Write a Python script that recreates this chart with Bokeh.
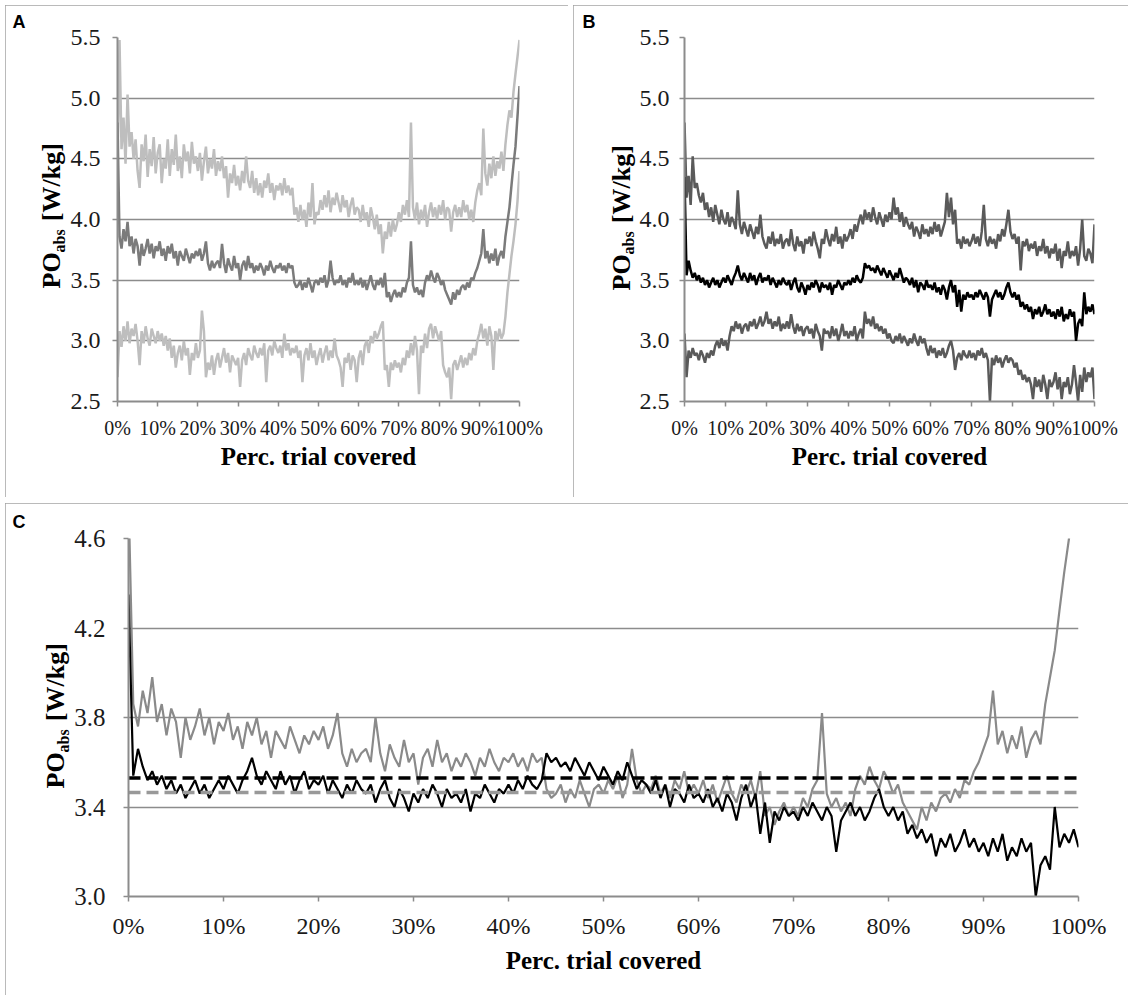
from bokeh.plotting import figure
from bokeh.layouts import column, row
from bokeh.models import FixedTicker, NumeralTickFormatter, Range1d, Title
from bokeh.embed import file_html
from bokeh.resources import INLINE

# ---------------- data (step 0.5 %) ----------------
PCT = [i * 0.5 for i in range(201)]
X_TICKS = [0, 10, 20, 30, 40, 50, 60, 70, 80, 90, 100]
AB_Y_TICKS = [2.5, 3.0, 3.5, 4.0, 4.5, 5.0, 5.5]
C_Y_TICKS = [3.0, 3.4, 3.8, 4.2, 4.6]

# Panel A, upper light-grey curve
A_UPPER = [4.42, 5.48, 4.58, 4.84, 4.46, 5.03, 4.60, 4.72, 4.50, 4.66,
           4.40, 4.26, 4.62, 4.48, 4.70, 4.35, 4.58, 4.44, 4.68, 4.38,
           4.55, 4.62, 4.30, 4.50, 4.42, 4.66, 4.36, 4.58, 4.45, 4.70,
           4.40, 4.52, 4.34, 4.62, 4.48, 4.56, 4.38, 4.64, 4.46, 4.52,
           4.40, 4.55, 4.32, 4.48, 4.60, 4.38, 4.50, 4.42, 4.58, 4.36,
           4.48, 4.40, 4.52, 4.34, 4.44, 4.18, 4.38, 4.30, 4.45, 4.28,
           4.36, 4.24, 4.40, 4.30, 4.52, 4.32, 4.26, 4.40, 4.22, 4.34,
           4.20, 4.30, 4.18, 4.32, 4.26, 4.38, 4.22, 4.30, 4.16, 4.28,
           4.24, 4.30, 4.20, 4.34, 4.22, 4.28, 4.20, 4.26, 4.04, 4.10,
           3.98, 4.12, 4.00, 4.08, 3.94, 4.14, 4.02, 4.30, 3.96, 4.06,
           4.04, 4.16, 4.08, 4.20, 4.10, 4.24, 4.06, 4.18, 4.12, 4.22,
           4.14, 4.06, 4.20, 4.10, 4.16, 4.02, 4.12, 4.18, 4.04, 4.10,
           4.08, 3.98, 4.12, 4.00, 4.06, 3.94, 4.10, 4.02, 3.92, 4.04,
           3.88, 3.96, 3.72, 3.90, 3.84, 3.98, 3.86, 4.00, 3.90, 3.96,
           4.06, 3.98, 4.12, 4.04, 4.16, 4.02, 4.80, 4.10, 4.00, 4.14,
           3.96, 4.08, 4.00, 4.12, 3.94, 4.06, 4.14, 4.02, 4.10, 4.00,
           4.12, 4.04, 4.16, 4.00, 4.10, 4.08, 3.90, 4.06, 4.12, 4.02,
           4.10, 4.02, 4.16, 4.06, 4.12, 4.00, 4.08, 3.98, 4.14, 4.24,
           4.30, 4.20, 4.75, 4.38, 4.28, 4.46, 4.34, 4.52, 4.36, 4.48,
           4.42, 4.56, 4.40, 4.62, 4.78, 4.90, 4.84, 5.05, 5.20, 5.34,
           5.48]

# Panel A, middle dark-grey curve (also the grey curve of panel C)
A_MIDDLE = [4.80, 3.86, 3.76, 3.92, 3.82, 3.98, 3.78, 3.86, 3.72, 3.84,
            3.78, 3.62, 3.80, 3.70, 3.76, 3.84, 3.72, 3.80, 3.68, 3.78,
            3.74, 3.82, 3.70, 3.76, 3.66, 3.78, 3.72, 3.80, 3.68, 3.74,
            3.62, 3.74, 3.70, 3.66, 3.76, 3.70, 3.64, 3.72, 3.68, 3.74,
            3.70, 3.76, 3.66, 3.72, 3.82, 3.64, 3.58, 3.66, 3.60, 3.64,
            3.66, 3.60, 3.80, 3.64, 3.56, 3.68, 3.62, 3.58, 3.70, 3.60,
            3.64, 3.50, 3.62, 3.66, 3.58, 3.70, 3.60, 3.64, 3.56, 3.62,
            3.58, 3.64, 3.60, 3.54, 3.62, 3.58, 3.66, 3.60, 3.56, 3.62,
            3.60, 3.64, 3.58, 3.62, 3.56, 3.64, 3.60, 3.62, 3.48, 3.44,
            3.46, 3.50, 3.42, 3.48, 3.44, 3.52, 3.46, 3.40, 3.48, 3.50,
            3.46, 3.52, 3.48, 3.54, 3.44, 3.50, 3.66, 3.52, 3.46, 3.50,
            3.48, 3.54, 3.46, 3.50, 3.44, 3.52, 3.48, 3.56, 3.46, 3.50,
            3.46, 3.52, 3.44, 3.50, 3.42, 3.48, 3.54, 3.46, 3.42, 3.50,
            3.46, 3.52, 3.44, 3.56, 3.36, 3.40, 3.32, 3.38, 3.42, 3.36,
            3.40, 3.36, 3.44, 3.40, 3.48, 3.52, 3.82, 3.46, 3.40, 3.44,
            3.38, 3.42, 3.36, 3.48, 3.54, 3.50, 3.58, 3.52, 3.48, 3.56,
            3.52, 3.46, 3.50, 3.42, 3.38, 3.34, 3.30, 3.40, 3.34, 3.42,
            3.38, 3.44, 3.46, 3.42, 3.48, 3.44, 3.52, 3.50, 3.56, 3.60,
            3.66, 3.72, 3.92, 3.68, 3.74, 3.64, 3.72, 3.66, 3.76, 3.62,
            3.70, 3.74, 3.68, 3.86, 3.98, 4.10, 4.28, 4.45, 4.60, 4.85,
            5.10]

# Panel A, lower light-grey curve
A_LOWER = [2.70, 3.08, 2.95, 3.12, 3.00, 3.16, 2.98, 3.10, 3.04, 3.14,
           3.00, 2.80, 3.08, 2.98, 3.12, 3.02, 2.96, 3.10, 3.04, 2.98,
           3.08, 3.00, 3.06, 2.96, 3.04, 2.92, 3.02, 2.86, 2.96, 2.78,
           2.90, 2.96, 2.84, 3.00, 2.88, 2.94, 2.72, 2.90, 2.84, 2.98,
           2.86, 2.92, 3.25, 3.08, 2.70, 2.82, 2.76, 2.88, 2.72, 2.84,
           2.90, 2.78, 2.86, 2.94, 2.82, 2.90, 2.74, 2.88, 2.84, 2.80,
           2.86, 2.62, 2.84, 2.90, 2.80, 2.94, 2.88, 2.84, 2.96, 2.90,
           2.86, 2.94, 2.88, 2.98, 2.66, 2.92, 2.96, 2.88, 3.00, 2.94,
           2.90, 2.96, 2.86, 3.06, 2.92, 2.98, 2.88, 2.94, 2.90, 2.96,
           2.86, 2.92, 2.66, 2.88, 2.94, 2.84, 2.98, 2.86, 2.92, 2.80,
           2.88, 2.94, 2.82, 2.90, 2.96, 2.84, 2.92, 2.86, 3.02, 2.88,
           2.84, 2.78, 2.62, 2.86, 2.82, 2.90, 2.76, 2.88, 2.84, 2.66,
           2.86, 2.92, 2.80, 2.96, 3.00, 2.90, 3.04, 2.98, 3.08, 3.02,
           3.06, 3.12, 3.16, 2.76, 2.80, 2.62, 2.82, 2.76, 2.84, 2.78,
           2.82, 2.74, 2.86, 2.80, 2.92, 2.86, 2.98, 2.88, 3.04, 2.92,
           2.56, 2.96, 2.90, 3.06, 2.94, 3.10, 3.14, 3.02, 3.12, 3.06,
           3.00, 3.08, 2.80, 2.74, 2.70, 2.78, 2.52, 2.80, 2.84, 2.76,
           2.82, 2.88, 2.78, 2.86, 2.80, 2.90, 2.84, 2.94, 2.88, 3.00,
           3.06, 3.14, 3.02, 3.10, 2.96, 3.12, 3.04, 2.76, 3.08, 3.00,
           3.10, 3.02, 3.06, 3.20, 3.40, 3.55, 3.70, 3.82, 3.96, 4.15,
           4.40]

# Panel B, upper dark-grey curve
B_UPPER = [4.80, 4.18, 4.36, 4.12, 4.52, 4.26, 4.30, 4.20, 4.14, 4.22,
           4.08, 4.14, 4.02, 4.10, 3.98, 4.12, 4.04, 3.96, 4.08, 4.00,
           3.96, 4.06, 3.94, 4.02, 3.98, 3.92, 4.24, 3.96, 3.88, 3.98,
           3.92, 3.86, 3.96, 3.90, 3.84, 3.94, 3.88, 4.04, 3.86, 3.80,
           3.76, 3.86, 3.80, 3.90, 3.78, 3.84, 3.80, 3.88, 3.76, 3.82,
           3.84, 3.78, 3.92, 3.80, 3.74, 3.86, 3.78, 3.82, 3.72, 3.84,
           3.80, 3.86, 3.78, 3.90, 3.82, 3.76, 3.68, 3.84, 3.80, 3.92,
           3.84, 3.78, 3.88, 3.82, 3.94, 3.80, 3.86, 3.76, 3.88, 3.82,
           3.86, 3.92, 3.84, 3.96, 3.90, 3.98, 4.04, 3.96, 4.08, 4.00,
           4.06, 3.98, 4.10, 4.02, 3.96, 4.06, 4.00, 3.94, 4.04, 3.98,
           4.06, 4.00, 4.18, 4.04, 4.10, 3.98, 4.06, 3.94, 4.02, 3.96,
           3.92, 3.98, 3.86, 3.94, 3.90, 3.84, 3.96, 3.88, 3.92, 3.86,
           3.94, 3.88, 3.98, 3.90, 3.96, 3.86, 3.92, 3.98, 4.22, 4.02,
           4.18, 3.96, 4.08, 3.80, 3.84, 3.76, 3.86, 3.80, 3.84, 3.78,
           3.82, 3.88, 3.80, 3.86, 3.78, 3.90, 4.12, 3.84, 3.78, 3.86,
           3.80, 3.84, 3.76, 3.88, 3.82, 3.92, 3.86, 3.96, 4.08, 3.90,
           3.84, 3.88, 3.80, 3.86, 3.58, 3.82, 3.78, 3.84, 3.74, 3.80,
           3.76, 3.82, 3.70, 3.78, 3.74, 3.84, 3.72, 3.78, 3.68, 3.76,
           3.72, 3.80, 3.66, 3.76, 3.60, 3.74, 3.70, 3.82, 3.68, 3.74,
           3.70, 3.78, 3.62, 3.76, 4.00, 3.70, 3.66, 3.76, 3.72, 3.64,
           3.96]

# Panel B, middle black curve (also the black curve of panel C)
B_MIDDLE = [4.35, 3.54, 3.66, 3.58, 3.52, 3.56, 3.50, 3.54, 3.48, 3.52,
            3.46, 3.50, 3.44, 3.48, 3.52, 3.46, 3.50, 3.44, 3.48, 3.52,
            3.48, 3.54, 3.50, 3.46, 3.52, 3.56, 3.62, 3.54, 3.50, 3.56,
            3.52, 3.48, 3.56, 3.50, 3.54, 3.46, 3.52, 3.56, 3.48, 3.52,
            3.50, 3.54, 3.46, 3.52, 3.48, 3.44, 3.50, 3.46, 3.52, 3.48,
            3.46, 3.50, 3.42, 3.48, 3.52, 3.44, 3.40, 3.48, 3.44, 3.38,
            3.46, 3.42, 3.48, 3.44, 3.50, 3.46, 3.40, 3.48, 3.44, 3.46,
            3.42, 3.48, 3.38, 3.46, 3.44, 3.50, 3.46, 3.42, 3.48, 3.46,
            3.50, 3.46, 3.52, 3.48, 3.54, 3.50, 3.48, 3.52, 3.64, 3.60,
            3.62, 3.58, 3.60, 3.56, 3.62, 3.58, 3.54, 3.60, 3.56, 3.52,
            3.58, 3.54, 3.50, 3.56, 3.52, 3.60, 3.54, 3.48, 3.52, 3.50,
            3.46, 3.52, 3.44, 3.50, 3.40, 3.48, 3.46, 3.42, 3.50, 3.44,
            3.46, 3.42, 3.48, 3.40, 3.44, 3.38, 3.46, 3.42, 3.34, 3.44,
            3.50, 3.40, 3.46, 3.28, 3.42, 3.24, 3.38, 3.34, 3.40, 3.36,
            3.38, 3.34, 3.40, 3.36, 3.42, 3.38, 3.34, 3.40, 3.36, 3.20,
            3.34, 3.38, 3.42, 3.36, 3.40, 3.34, 3.38, 3.44, 3.48, 3.40,
            3.36, 3.40, 3.34, 3.38, 3.28, 3.32, 3.26, 3.30, 3.24, 3.28,
            3.18, 3.26, 3.22, 3.28, 3.20, 3.24, 3.30, 3.22, 3.26, 3.20,
            3.24, 3.18, 3.26, 3.20, 3.28, 3.16, 3.22, 3.18, 3.26, 3.20,
            3.24, 3.00, 3.14, 3.18, 3.12, 3.40, 3.22, 3.28, 3.24, 3.30,
            3.22]

# Panel B, lower dark-grey curve
B_LOWER = [3.06, 2.70, 2.92, 2.86, 2.94, 2.88, 2.90, 2.84, 2.92, 2.88,
           2.82, 2.90, 2.86, 2.92, 2.88, 2.96, 3.00, 2.94, 3.02, 2.96,
           3.00, 2.92, 3.04, 3.12, 3.08, 3.16, 3.10, 3.14, 3.06, 3.12,
           3.14, 3.08, 3.16, 3.12, 3.18, 3.10, 3.14, 3.20, 3.12, 3.16,
           3.24, 3.14, 3.18, 3.10, 3.16, 3.12, 3.20, 3.08, 3.14, 3.10,
           3.16, 3.10, 3.22, 3.12, 3.06, 3.14, 3.08, 3.12, 3.04, 3.10,
           3.12, 3.06, 3.10, 3.02, 3.14, 3.08, 3.04, 2.92, 3.10, 3.06,
           3.08, 3.02, 3.12, 3.04, 3.10, 3.00, 3.06, 3.14, 3.04, 3.08,
           3.02, 3.08, 3.04, 3.12, 3.00, 3.06, 3.10, 3.02, 3.24, 3.14,
           3.18, 3.12, 3.20, 3.10, 3.14, 3.08, 3.12, 3.06, 3.10, 3.02,
           3.06, 3.00, 2.98, 3.04, 3.00, 3.06, 2.98, 3.04, 3.00, 2.96,
           3.02, 2.98, 3.06, 3.00, 2.96, 3.04, 2.98, 3.02, 2.94, 2.88,
           2.96, 2.90, 2.94, 2.86, 2.92, 2.88, 2.94, 2.86, 2.90, 2.96,
           3.00, 2.92, 2.76, 2.86, 2.90, 2.84, 2.92, 2.88, 2.86, 2.92,
           2.86, 2.90, 2.84, 2.92, 2.88, 2.94, 2.86, 2.90, 2.84, 2.50,
           2.86, 2.80, 2.88, 2.82, 2.86, 2.78, 2.84, 2.88, 2.82, 2.86,
           2.84, 2.78, 2.82, 2.72, 2.76, 2.68, 2.72, 2.66, 2.70, 2.64,
           2.52, 2.70, 2.62, 2.68, 2.58, 2.72, 2.64, 2.52, 2.68, 2.62,
           2.66, 2.74, 2.60, 2.70, 2.52, 2.66, 2.62, 2.70, 2.56, 2.64,
           2.80, 2.66, 2.50, 2.72, 2.58, 2.78, 2.66, 2.74, 2.70, 2.78,
           2.52]

# Panel C dashed reference levels (means)
MEAN_X = [0, 100]
MEAN_BLACK = 3.53
MEAN_GREY = 3.465

# ---------------- styling ----------------
SERIF = "Liberation Serif, Times New Roman, serif"
GRID = "#8c8c8c"
FRAME = "#a3a3a3"
TITLE_FS = 26      # "PO ... [W/kg]" font size
SUB_FS = 16        # subscript "abs"
PO_EM = 1.389      # advance of bold "PO" in em


def make_panel(width, height, mb, y_lo, y_hi, y_ticks, xfs, yfs,
               y_standoff, x_standoff, title_standoff):
    p = figure(width=width, height=height,
               x_range=Range1d(0, 100), y_range=Range1d(y_lo, y_hi),
               output_backend="svg", toolbar_location=None,
               min_border_left=mb[0], min_border_right=mb[1],
               min_border_top=mb[2], min_border_bottom=mb[3])
    p.outline_line_color = None
    p.background_fill_color = "white"
    p.border_fill_color = "white"
    p.styles = {"outline": "2px solid " + FRAME, "outline-offset": "-2px"}

    p.xgrid.visible = False
    p.ygrid.grid_line_color = GRID
    p.ygrid.grid_line_width = 1.6
    p.ygrid.ticker = FixedTicker(ticks=y_ticks)

    xa = p.xaxis[0]
    xa.ticker = FixedTicker(ticks=X_TICKS)
    xa.major_label_overrides = {t: f"{t}%" for t in X_TICKS}
    xa.axis_line_color = GRID
    xa.axis_line_width = 2
    xa.major_tick_line_color = GRID
    xa.major_tick_line_width = 1.5
    xa.major_tick_in = 0
    xa.major_tick_out = 5
    xa.minor_tick_line_color = None
    xa.major_label_text_font = SERIF
    xa.major_label_text_font_size = f"{xfs}px"
    xa.major_label_text_color = "#1a1a1a"
    xa.major_label_standoff = x_standoff
    xa.axis_label = "Perc. trial covered"
    xa.axis_label_text_font = SERIF
    xa.axis_label_text_font_style = "bold"
    xa.axis_label_text_font_size = "25px"
    xa.axis_label_text_color = "black"
    xa.axis_label_standoff = title_standoff

    ya = p.yaxis[0]
    ya.ticker = FixedTicker(ticks=y_ticks)
    ya.formatter = NumeralTickFormatter(format="0.0")
    ya.axis_line_color = GRID
    ya.axis_line_width = 2
    ya.major_tick_line_color = GRID
    ya.major_tick_line_width = 1.5
    ya.major_tick_in = 0
    ya.major_tick_out = 5
    ya.minor_tick_line_color = None
    ya.major_label_text_font = SERIF
    ya.major_label_text_font_size = f"{yfs}px"
    ya.major_label_text_color = "#1a1a1a"
    ya.major_label_standoff = y_standoff
    return p


def y_title(p, axis_extent, po_base_from_frame, start_from_bottom):
    """Vertical title 'PO' + subscript 'abs' + ' [W/kg]' built from two side titles."""
    sub_h = 1.107 * SUB_FS
    big_desc = 0.216 * TITLE_FS
    sub = Title(text="abs", align="left", vertical_align="bottom",
                offset=start_from_bottom + PO_EM * TITLE_FS, standoff=0,
                text_font=SERIF, text_font_style="bold",
                text_font_size=f"{SUB_FS}px", text_color="black")
    p.add_layout(sub, "left")
    sub_left = axis_extent + 2 + sub_h
    want_bottom = po_base_from_frame - big_desc
    standoff = 2 * (want_bottom - sub_left)
    main = Title(text="PO\u2003\u2009[W/kg]", align="left", vertical_align="bottom",
                 offset=start_from_bottom, standoff=standoff,
                 text_font=SERIF, text_font_style="bold",
                 text_font_size=f"{TITLE_FS}px", text_color="black")
    p.add_layout(main, "left")


def letter(p, txt, offset, standoff):
    p.title.text = txt
    p.title.align = "left"
    p.title.vertical_align = "top"
    p.title.offset = offset
    p.title.standoff = standoff
    p.title.text_font = "Liberation Sans"
    p.title.text_font_style = "bold"
    p.title.text_font_size = "18px"
    p.title.text_color = "black"


# ---------------- panel A ----------------
pA = make_panel(563, 492, (112, 49, 32, 96), 2.5, 5.5, AB_Y_TICKS, 20, 24, 12, 10, 1)
pA.line(PCT, A_UPPER, line_color="#bebebe", line_width=2.5)
pA.line(PCT, A_LOWER, line_color="#bebebe", line_width=2.5)
pA.line(PCT, A_MIDDLE, line_color="#7b7b7b", line_width=2.5)
y_title(pA, 5 + 12 + 30, 117 - 62, 113)
letter(pA, "A", -105, 8)

# ---------------- panel B ----------------
pB = make_panel(555, 492, (111, 34, 32, 96), 2.5, 5.5, AB_Y_TICKS, 20, 24, 10, 10, 1)
pB.line(PCT, B_UPPER, line_color="#5a5a5a", line_width=2.5)
pB.line(PCT, B_LOWER, line_color="#5a5a5a", line_width=2.5)
pB.line(PCT, B_MIDDLE, line_color="black", line_width=2.5)
y_title(pB, 5 + 10 + 30, 684 - 632, 111)
letter(pB, "B", -102, 8)

# ---------------- panel C ----------------
pC = make_panel(1123, 492, (123, 50, 35, 99), 3.0, 4.6, C_Y_TICKS, 24, 25, 18, 11, 5)
pC.line(PCT, A_MIDDLE, line_color="#8a8a8a", line_width=2.2)
pC.line(PCT, B_MIDDLE, line_color="black", line_width=2.2)
pC.line(MEAN_X, [MEAN_GREY, MEAN_GREY], line_color="#999999", line_width=3.5, line_dash="12 6")
pC.line(MEAN_X, [MEAN_BLACK, MEAN_BLACK], line_color="black", line_width=3.5, line_dash="12 6")
y_title(pC, 5 + 18 + 31.25, 128 - 66, 108)
letter(pC, "C", -116, 10)

layout = column(row(pA, pB, spacing=5), pC, spacing=6,
                styles={"margin-left": "5px", "margin-top": "5px"})
open("out.html", "w").write(file_html(layout, INLINE))
